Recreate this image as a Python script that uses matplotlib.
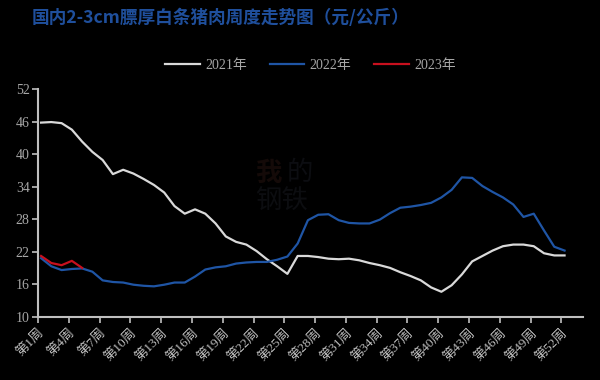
import numpy as np
import matplotlib
matplotlib.use("Agg")
import matplotlib.pyplot as plt

plt.rcParams['font.family'] = ['Liberation Serif', 'Noto Sans CJK SC', 'DejaVu Sans']

# 周度价格数据 (元/公斤)
weeks = np.arange(1, 53)
price_2021 = [45.8, 45.9, 45.7, 44.5, 42.3, 40.4, 38.9, 36.3, 37.1, 36.4,
              35.4, 34.3, 32.9, 30.4, 29.0, 29.8, 29.0, 27.2, 24.8, 23.8,
              23.3, 22.1, 20.6, 19.3, 17.9, 21.2, 21.2, 21.0, 20.7, 20.6,
              20.7, 20.4, 19.9, 19.5, 19.0, 18.2, 17.5, 16.7, 15.4, 14.6,
              15.8, 17.8, 20.2, 21.2, 22.2, 23.0, 23.3, 23.3, 23.0, 21.7,
              21.3, 21.3]
price_2022 = [20.8, 19.3, 18.6, 18.8, 18.9, 18.3, 16.7, 16.4, 16.3, 15.9,
              15.7, 15.6, 15.9, 16.3, 16.3, 17.4, 18.7, 19.1, 19.3, 19.8,
              20.0, 20.1, 20.1, 20.5, 21.1, 23.5, 27.8, 28.8, 28.9, 27.8,
              27.3, 27.2, 27.2, 27.9, 29.1, 30.1, 30.3, 30.6, 31.0, 32.0,
              33.4, 35.7, 35.6, 34.1, 33.0, 32.0, 30.7, 28.4, 29.0, 25.9,
              22.9, 22.2]
weeks_2023 = np.arange(1, 6)
price_2023 = [21.2, 19.9, 19.5, 20.3, 19.0]

tick_weeks = np.arange(1, 53, 3)
tick_labels = ['第{}周'.format(w) for w in tick_weeks]
y_ticks = [10, 16, 22, 28, 34, 40, 46, 52]

bg = '#000000'
axis_col = '#bfbfbf'
text_col = '#a6a6a6'

fig = plt.figure(figsize=(6, 3.8), dpi=100, facecolor=bg)
ax = fig.add_axes([0.0633, 0.1666, 0.9084, 0.5992], facecolor=bg)

ax.plot(weeks, price_2021, color='#d9d9d9', lw=1.6, label='2021年')
ax.plot(weeks, price_2022, color='#1f55a5', lw=1.6, label='2022年')
ax.plot(weeks_2023, price_2023, color='#c8101e', lw=1.6, label='2023年')

ax.set_xlim(0.7, 53.8)
ax.set_ylim(10, 52)
ax.set_yticks(y_ticks)
ax.set_xticks(tick_weeks - 0.3)
ax.set_xticklabels(tick_labels, rotation=45, ha='right', va='top',
                   rotation_mode='anchor', fontsize=9.5, color=text_col)
ax.tick_params(axis='y', colors=axis_col, labelcolor=text_col, labelsize=10,
               length=4, width=1.2, pad=2)
ax.tick_params(axis='x', colors=axis_col, length=4, width=1.2, pad=3)

for s in ['top', 'right']:
    ax.spines[s].set_visible(False)
for s in ['left', 'bottom']:
    ax.spines[s].set_color(axis_col)
    ax.spines[s].set_linewidth(1.5)

leg = ax.legend(loc='lower center', bbox_to_anchor=(0.5, 1.02), ncol=3,
                frameon=False, fontsize=10, handlelength=2.5,
                columnspacing=1.6, handletextpad=0.4)
for t in leg.get_texts():
    t.set_color(text_col)

# 水印
fig.text(0.425, 0.545, '我', color='#140a08', fontsize=19, fontweight='bold',
         family=['Noto Sans CJK SC'], ha='left', va='center')
fig.text(0.478, 0.545, '的', color='#0c0d11', fontsize=19,
         family=['Noto Sans CJK SC'], ha='left', va='center')
fig.text(0.425, 0.47, '钢铁', color='#0c0d10', fontsize=19,
         family=['Noto Sans CJK SC'], ha='left', va='center')

fig.text(0.053, 0.952, '国内2-3cm膘厚白条猪肉周度走势图（元/公斤）', color='#1f4f9c',
         fontsize=12.7, fontweight='bold', family=['Noto Sans CJK SC'],
         ha='left', va='center')

fig.savefig('out.png', dpi=100, facecolor=bg)
